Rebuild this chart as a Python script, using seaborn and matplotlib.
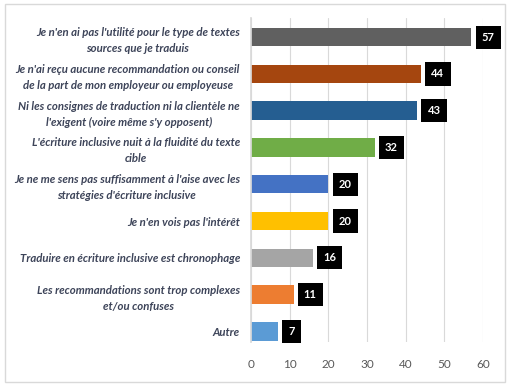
import matplotlib
matplotlib.use("Agg")
import matplotlib.pyplot as plt
import seaborn as sns
import pandas as pd
from matplotlib.patches import Rectangle

categories = [
    "Je n'en ai pas l'utilité pour le type de textes\nsources que je traduis",
    "Je n'ai reçu aucune recommandation ou conseil\nde la part de mon employeur ou employeuse",
    "Ni les consignes de traduction ni la clientèle ne\nl'exigent (voire même s'y opposent)",
    "L'écriture inclusive nuit à la fluidité du texte\ncible",
    "Je ne me sens pas suffisamment à l'aise avec les\nstratégies d'écriture inclusive",
    "Je n'en vois pas l'intérêt",
    "Traduire en écriture inclusive est chronophage",
    "Les recommandations sont trop complexes\net/ou confuses",
    "Autre",
]
values = [57, 44, 43, 32, 20, 20, 16, 11, 7]
colors = ["#606060", "#A5460F", "#255E91", "#70AD47", "#4472C4",
          "#FFC000", "#A5A5A5", "#ED7D31", "#5B9BD5"]
xticks = [0, 10, 20, 30, 40, 50, 60]

sns.set_theme(style="white")
plt.rcParams['font.family'] = ['Lato', 'DejaVu Sans']

df = pd.DataFrame({"cat": categories, "val": values})

fig = plt.figure(figsize=(5.10, 3.86), dpi=100)
ax = fig.add_axes([251/510, 1-342/386, (483-251)/510, (342-18)/386])

sns.barplot(data=df, y="cat", x="val", hue="cat", palette=colors,
            legend=False, ax=ax, width=0.5, saturation=1, edgecolor="none")

ax.set_xlim(0, 60)
ax.set_ylim(8.29, -0.52)
ax.set_xticks(xticks)
ax.set_xlabel("")
ax.set_ylabel("")
ax.grid(axis="x", color="#D9D9D9", linewidth=0.8)
ax.set_axisbelow(True)
for s in ax.spines.values():
    s.set_visible(False)
ax.spines["left"].set_visible(True)
ax.spines["left"].set_color("#D9D9D9")

ax.tick_params(axis="x", labelsize=8.5, colors="#595959", length=0, pad=12)
ax.tick_params(axis="y", length=0, pad=8)
for lab in ax.get_yticklabels():
    lab.set_fontstyle("italic")
    lab.set_fontweight("bold")
    lab.set_fontsize(8.2)
    lab.set_color("#3D4459")
    lab.set_multialignment("center")
    lab.set_linespacing(1.55)

for i, v in enumerate(values):
    ax.annotate(str(v), xy=(v, i), xytext=(7.4, 0), textcoords="offset points",
                va="center", ha="left", color="white", fontsize=8,
                fontweight="bold",
                bbox=dict(boxstyle="square,pad=0.55", fc="black", ec="none"))

fig.patches.append(Rectangle((5/510, 4/386), 500/510, 378/386,
                             transform=fig.transFigure, fill=False,
                             ec="#D9D9D9", lw=1))

fig.savefig("out.png", dpi=100)
